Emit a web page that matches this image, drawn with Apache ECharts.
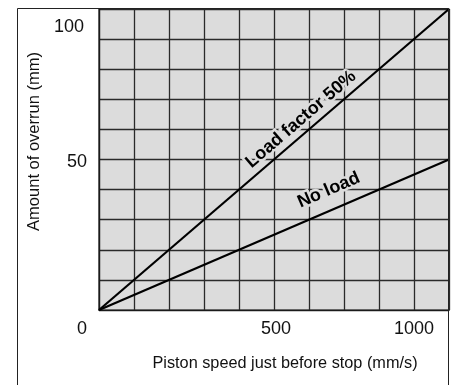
<!DOCTYPE html>
<html>
<head>
<meta charset="utf-8">
<script src="https://cdn.jsdelivr.net/npm/echarts@6/dist/echarts.min.js"></script>
<style>
  html, body { margin: 0; padding: 0; background: #fff; }
  #chart { width: 455px; height: 385px; }
</style>
</head>
<body>
<div id="chart"></div>
<script>
// Piston speed (mm/s) at the two ends of each straight-line relation
var speed = [0, 1000];
// Overrun (mm) for each condition
var loadFactor50 = [0, 100];
var noLoad = [0, 50];
// Axis tick labels that are printed
var xTickLabels = [0, 500, 1000];
var yTickLabels = [50, 100];
// Line captions and where along the speed axis they sit
var captions = ['Load factor 50%', 'No load'];
var captionSpeed = [625, 700];

var FONT = '"Liberation Sans", Arial, Helvetica, sans-serif';

function pairs(ys) {
  return speed.map(function (x, i) { return [x, ys[i]]; });
}
function valueAt(ys, x) {
  var t = (x - speed[0]) / (speed[1] - speed[0]);
  return ys[0] + t * (ys[1] - ys[0]);
}

var chart = echarts.init(document.getElementById('chart'), null, { renderer: 'canvas' });

function captionPoint(ys, idx, angle, off) {
  return {
    coord: [captionSpeed[idx], valueAt(ys, captionSpeed[idx])],
    symbol: 'circle',
    symbolSize: 1,
    itemStyle: { color: 'rgba(0,0,0,0)' },
    label: {
      show: true,
      formatter: captions[idx],
      position: 'inside',
      rotate: angle,
      offset: off,
      color: '#000',
      fontFamily: FONT,
      fontWeight: 'bold',
      fontSize: 18,
      textBorderColor: '#dcdcdc',
      textBorderWidth: 5
    }
  };
}

var TICK = { fontFamily: FONT, fontSize: 18, color: '#111' };
function rich(extra) {
  return Object.assign({}, TICK, extra);
}

function buildOption(a1, a2, off1, off2) {
  return {
    animation: false,
    backgroundColor: '#fff',
    grid: {
      left: 99, right: 6, top: 9, bottom: 75,
      show: true,
      backgroundColor: '#dcdcdc',
      borderColor: '#1a1a1a',
      borderWidth: 1.2
    },
    xAxis: {
      type: 'value',
      min: 0, max: 1000, interval: 100,
      name: 'Piston speed just before stop (mm/s)',
      nameLocation: 'middle',
      nameGap: 46,
      nameTextStyle: { fontFamily: FONT, fontSize: 16.3, color: '#111', padding: [0, 0, 0, 22] },
      axisLine: { show: true, lineStyle: { color: '#1a1a1a', width: 1.2 } },
      axisTick: { show: false },
      splitLine: { show: true, lineStyle: { color: '#2a2a2a', width: 1.3 } },
      axisLabel: {
        margin: 10,
        fontFamily: FONT, fontSize: 18, color: '#111',
        formatter: function (v) {
          if (xTickLabels.indexOf(v) < 0) return '';
          if (v === 0) return '{o|' + v + '}';
          if (v === 1000) return '{e|' + v + '}';
          return '{m|' + v + '}';
        },
        rich: {
          o: rich({ padding: [0, 34, 0, 0] }),
          m: rich({ padding: [0, 0, 0, 4] }),
          e: rich({ padding: [0, 70, 0, 0] })
        }
      }
    },
    yAxis: {
      type: 'value',
      min: 0, max: 100, interval: 10,
      name: 'Amount of overrun (mm)',
      nameLocation: 'middle',
      nameGap: 54,
      nameTextStyle: { fontFamily: FONT, fontSize: 16.5, color: '#111', padding: [0, 0, 0, 36] },
      axisLine: { show: true, lineStyle: { color: '#1a1a1a', width: 1.2 } },
      axisTick: { show: false },
      splitLine: { show: true, lineStyle: { color: '#2a2a2a', width: 1.3 } },
      axisLabel: {
        margin: 12,
        fontFamily: FONT, fontSize: 18, color: '#111',
        formatter: function (v) {
          if (yTickLabels.indexOf(v) < 0) return '';
          if (v === 100) return '{t|' + v + '}';
          return '{m|' + v + '}';
        },
        rich: {
          t: rich({ padding: [36, 3, 0, 0] }),
          m: rich({ padding: [6, 0, 0, 0] })
        }
      }
    },
    graphic: [{
      type: 'rect',
      z: 100,
      silent: true,
      shape: { x: 17.5, y: 8.5, width: 431, height: 420 },
      style: { fill: 'none', stroke: '#222', lineWidth: 1 }
    }],
    series: [{
      type: 'line',
      name: captions[0],
      data: pairs(loadFactor50),
      symbol: 'none',
      lineStyle: { color: '#000', width: 2.2 },
      z: 5,
      markPoint: { data: [captionPoint(loadFactor50, 0, a1, off1)], z: 6 }
    }, {
      type: 'line',
      name: captions[1],
      data: pairs(noLoad),
      symbol: 'none',
      lineStyle: { color: '#000', width: 2.2 },
      z: 5,
      markPoint: { data: [captionPoint(noLoad, 1, a2, off2)], z: 6 }
    }]
  };
}

chart.setOption(buildOption(0, 0, [0, 0], [0, 0]));

// Orient each caption along its line, lifted just above it
function along(ys) {
  var a = chart.convertToPixel({ gridIndex: 0 }, [speed[0], ys[0]]);
  var b = chart.convertToPixel({ gridIndex: 0 }, [speed[1], ys[1]]);
  return Math.atan2(a[1] - b[1], b[0] - a[0]);
}
function lift(ang, d) {
  return [-Math.sin(ang) * d, -Math.cos(ang) * d];
}
var r1 = along(loadFactor50);
var r2 = along(noLoad);
chart.setOption(buildOption(r1 * 180 / Math.PI, r2 * 180 / Math.PI, lift(r1, 17), lift(r2, 21)), true);
</script>
</body>
</html>
